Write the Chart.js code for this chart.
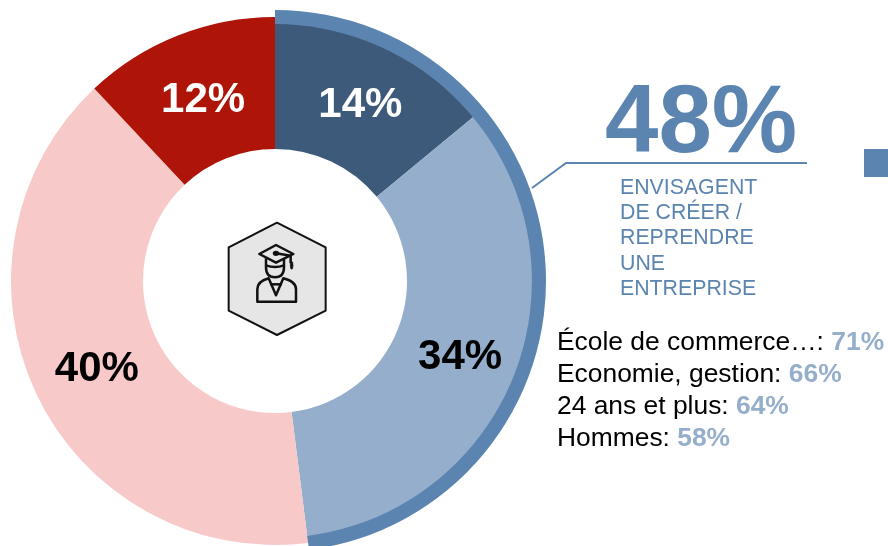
<!DOCTYPE html>
<html lang="fr">
<head>
<meta charset="utf-8">
<title>Envisagent de créer / reprendre une entreprise</title>
<script src="https://cdn.jsdelivr.net/npm/chart.js@4"></script>
<style>
  html, body { margin: 0; padding: 0; background: #fff; }
  body { width: 888px; height: 546px; overflow: hidden; position: relative; font-family: "Liberation Sans", Arial, sans-serif; }
  .chart-box { position: absolute; left: 0; top: 0; width: 550px; height: 562px; }
  .overlay { position: absolute; left: 0; top: 0; }
  #big { position: absolute; left: 605px; top: 69px; font-size: 96px; line-height: 100px; font-weight: bold; color: #5b85b0; white-space: nowrap; }
  #sub { position: absolute; left: 620px; top: 175px; font-size: 21.3px; line-height: 25.2px; color: #5b85b0; white-space: nowrap; }
  #list { position: absolute; left: 557px; top: 325px; font-size: 26.4px; line-height: 32px; color: #000; white-space: nowrap; }
  #list b { color: #94aecb; }
  #square { position: absolute; left: 864px; top: 149px; width: 24px; height: 28px; background: #5b85b0; }
</style>
</head>
<body>
<div class="chart-box"><canvas id="donut"></canvas></div>
<div class="chart-box"><canvas id="ring"></canvas></div>

<!-- connector line + icon in the hole -->
<svg class="overlay" width="888" height="546">
  <polyline points="532,188 566,163 807,163" fill="none" stroke="#5b85b0" stroke-width="2"/>
  <g transform="translate(200,190) scale(0.3333)" fill="none" stroke="#111" stroke-width="7.5" stroke-linejoin="round">
    <polygon points="231,98 377,172 377,362 231,435 86,362 86,172" fill="#e6e6e6" stroke-width="6"/>
    <polygon points="178,192 228,165 280,192 228,218"/>
    <path d="M198,205 V232 Q198,262 225,262 Q252,262 252,232 V205"/>
    <path d="M198,226 Q225,236 252,226" />
    <path d="M228,190 L272,197 V220"/>
    <ellipse cx="228" cy="190" rx="6" ry="4" fill="#111"/>
    <ellipse cx="275" cy="226" rx="4" ry="12" fill="#111" stroke-width="2"/>
    <path d="M172,335 V298 Q172,274 206,265 L228,316 L250,265 Q288,274 288,298 V335 Z"/>
    <path d="M211,283 H246"/>
  </g>
</svg>

<div id="big"></div>
<div id="sub"></div>
<div id="list"></div>
<div id="square"></div>

<script>
const categories = ["Oui, certainement", "Oui, probablement", "Non, probablement pas", "Non, certainement pas"];
const values = [14, 34, 40, 12];
const sliceColors = ["#3d5a7a", "#94aecb", "#f8c9c9", "#ae1407"];
const labelColors = ["#fff", "#000", "#000", "#fff"];

// outer ring = the two blue slices together
const ringValues = [48, 52];
const ringColors = ["#5b85b0", "rgba(0,0,0,0)"];

const bigNumber = "48%";
const subLines = ["ENVISAGENT", "DE CRÉER /", "REPRENDRE", "UNE", "ENTREPRISE"];
const listLabels = ["École de commerce…:", "Economie, gestion:", "24 ans et plus:", "Hommes:"];
const listValues = ["71%", "66%", "64%", "58%"];

// ! percentages written on the slices
const sliceLabels = {
  id: "sliceLabels",
  afterDatasetsDraw(chart) {
    const ctx = chart.ctx;
    const arcs = chart.getDatasetMeta(0).data;
    ctx.save();
    ctx.font = 'bold 42px "Liberation Sans", Arial, sans-serif';
    ctx.textAlign = "center";
    ctx.textBaseline = "middle";
    arcs.forEach(function (arc, i) {
      const p = arc.getCenterPoint();
      ctx.fillStyle = labelColors[i];
      ctx.fillText(values[i] + "%", p.x + 1, p.y + 4);
    });
    ctx.restore();
  }
};

new Chart("donut", {
  type: "doughnut",
  data: {
    labels: categories,
    datasets: [{ data: values, backgroundColor: sliceColors, borderWidth: 0 }]
  },
  options: {
    responsive: true,
    maintainAspectRatio: false,
    animation: false,
    radius: 264,
    cutout: "50%",
    plugins: { legend: { display: false }, tooltip: { enabled: false } }
  },
  plugins: [sliceLabels]
});

new Chart("ring", {
  type: "doughnut",
  data: {
    labels: ["Envisagent", "Autres"],
    datasets: [{ data: ringValues, backgroundColor: ringColors, borderWidth: 0 }]
  },
  options: {
    responsive: true,
    maintainAspectRatio: false,
    animation: false,
    radius: 271,
    cutout: "94.8%",
    plugins: { legend: { display: false }, tooltip: { enabled: false } }
  }
});

document.querySelector("#big").textContent = bigNumber;
document.querySelector("#sub").innerHTML = subLines.join("<br>");
document.querySelector("#list").innerHTML = listLabels
  .map(function (label, i) { return `${label} <b>${listValues[i]}</b>`; })
  .join("<br>");
</script>
</body>
</html>
